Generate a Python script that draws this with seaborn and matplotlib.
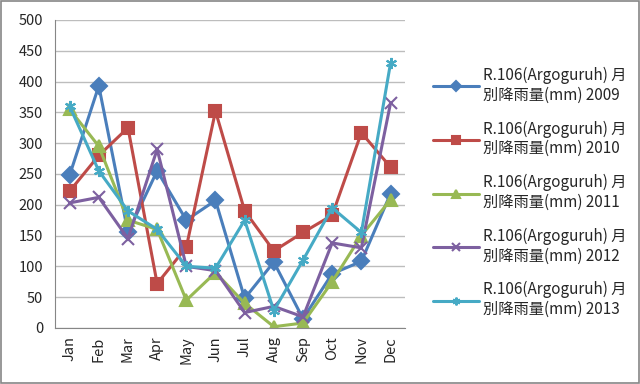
# Monthly rainfall at station R.106 (Argoguruh), 2009-2013
import pandas as pd
import matplotlib
matplotlib.use("Agg")
import matplotlib.pyplot as plt
from matplotlib.patches import Rectangle
import seaborn as sns

months = ["Jan", "Feb", "Mar", "Apr", "May", "Jun",
          "Jul", "Aug", "Sep", "Oct", "Nov", "Dec"]
years = ["2009", "2010", "2011", "2012", "2013"]

rain_2009 = [248, 393, 155, 255, 175, 207, 48, 107, 15, 88, 108, 218]
rain_2010 = [222, 280, 325, 72, 131, 352, 190, 125, 155, 183, 317, 261]
rain_2011 = [355, 295, 175, 160, 45, 90, 40, 2, 8, 75, 150, 208]
rain_2012 = [203, 212, 145, 290, 100, 93, 25, 35, 18, 138, 130, 365]
rain_2013 = [360, 255, 190, 160, 100, 97, 175, 28, 110, 195, 155, 430]

colors = ["#4A7EBB", "#BE4B48", "#98B954", "#7D60A0", "#46AAC5"]
markers = ["D", "s", "^", "x", (6, 2, 0)]

all_rain = [rain_2009, rain_2010, rain_2011, rain_2012, rain_2013]

sns.set_style("white")
plt.rcParams["font.family"] = ["Noto Sans CJK JP", "DejaVu Sans"]

fig = plt.figure(figsize=(6.4, 3.84), dpi=100)
ax = fig.add_axes([0.086, 0.146, 0.547, 0.802])

for i, (yr, vals) in enumerate(zip(years, all_rain)):
    df = pd.DataFrame({"x": range(len(months)), "rain": vals})
    label = "R.106(Argoguruh) 月\n別降雨量(mm) " + yr
    sns.lineplot(data=df, x="x", y="rain", ax=ax, color=colors[i],
                 marker=markers[i], markersize=8, markeredgewidth=1.5,
                 markeredgecolor=colors[i], linewidth=2.2, label=label)

ax.set_xlim(-0.5, 11.5)
ax.set_ylim(0, 500)
ax.set_yticks(range(0, 501, 50))
ax.set_xticks(range(12))
ax.set_xticklabels(months, rotation=90)
ax.set_xticks([i - 0.5 for i in range(13)], minor=True)
ax.tick_params(axis="x", which="major", length=0, labelsize=10.5, pad=6)
ax.tick_params(axis="x", which="minor", length=5, color="#868686")
ax.tick_params(axis="y", length=5, color="#868686", labelsize=10.5)
ax.set_xlabel("")
ax.set_ylabel("")
ax.yaxis.grid(True, color="#BDBDBD", linewidth=1)
for s in ["top", "right"]:
    ax.spines[s].set_visible(False)
for s in ["left", "bottom"]:
    ax.spines[s].set_color("#868686")

ax.legend(loc="center left", bbox_to_anchor=(1.04, 0.44), frameon=False,
          fontsize=11, labelspacing=1.1, handlelength=3, handletextpad=0.3,
          markerscale=0.7)

fig.patches.append(Rectangle((0.002, 0.003), 0.996, 0.994, transform=fig.transFigure,
                             fill=False, edgecolor="#868686", linewidth=1.2))

fig.savefig("out.png", dpi=100)
